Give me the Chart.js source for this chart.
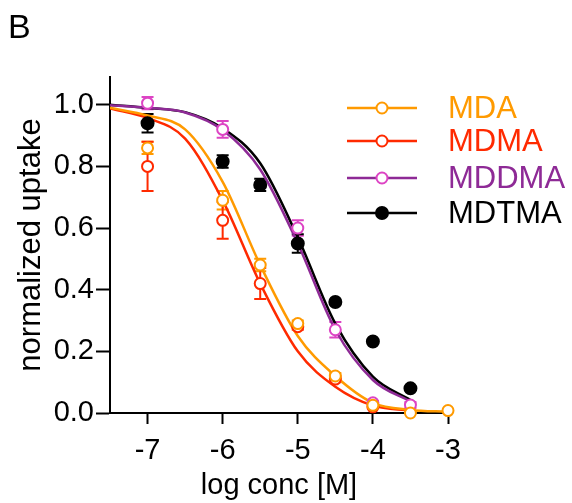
<!DOCTYPE html>
<html>
<head>
<meta charset="utf-8">
<script src="https://cdn.jsdelivr.net/npm/chart.js@4.4.0/dist/chart.umd.min.js"></script>
<style>
  html, body { margin: 0; padding: 0; background: #fff; }
</style>
</head>
<body>
<canvas id="uptakeChart" width="572" height="503"></canvas>
<script>
const mdaX = [-7, -6, -5.5, -5, -4.5, -4, -3.5, -3];
const mdaY = [0.86, 0.69, 0.48, 0.29, 0.12, 0.025, 0.0, 0.008];
const mdaErr = [0.02, 0.03, 0.02, 0.01, 0.01, 0, 0, 0];

const mdmaX = [-7, -6, -5.5, -5, -4.5, -4];
const mdmaY = [0.80, 0.625, 0.42, 0.28, 0.11, 0.02];
const mdmaErr = [0.08, 0.06, 0.05, 0.01, 0.01, 0];

const mddmaX = [-7, -6, -5, -4.5, -4, -3.5];
const mddmaY = [1.005, 0.92, 0.60, 0.27, 0.033, 0.026];
const mddmaErr = [0.02, 0.027, 0.025, 0.025, 0.005, 0.01];

const mdtmaX = [-7, -6, -5.5, -5, -4.5, -4, -3.5];
const mdtmaY = [0.94, 0.816, 0.74, 0.55, 0.36, 0.232, 0.08];
const mdtmaErr = [0.03, 0.02, 0.02, 0.03, 0, 0, 0];

// fitted curves, sampled off the figure
const fitX = [-7.5, -7, -6.5, -6, -5.5, -5, -4.5, -4, -3.5, -3];
const mdaFit = [0.99, 0.965, 0.92, 0.75, 0.48, 0.25, 0.12, 0.033, 0.01, 0.004];
const mdmaFit = [0.988, 0.957, 0.89, 0.69, 0.42, 0.2, 0.085, 0.024, 0.008];
const mddmaFit = [0.998, 0.99, 0.975, 0.918, 0.79, 0.55, 0.27, 0.107, 0.037];
const mdtmaFit = [1.0, 0.99, 0.976, 0.924, 0.81, 0.57, 0.29, 0.118, 0.042];

const xTicks = [-7, -6, -5, -4, -3];
const yTicks = [0, 0.2, 0.4, 0.6, 0.8, 1.0];

const FONT = "'Liberation Sans', Arial, Helvetica, sans-serif";

const series = [
  { label: 'MDA',   xs: mdaX,   ys: mdaY,   err: mdaErr,   fit: mdaFit,   line: '#ff9a00', marker: '#ff9a00', text: '#ff9a00', filled: false },
  { label: 'MDMA',  xs: mdmaX,  ys: mdmaY,  err: mdmaErr,  fit: mdmaFit,  line: '#ff2a00', marker: '#ff2a00', text: '#ff2a00', filled: false },
  { label: 'MDDMA', xs: mddmaX, ys: mddmaY, err: mddmaErr, fit: mddmaFit, line: '#8e2a96', marker: '#dd44c4', text: '#8e2a96', filled: false },
  { label: 'MDTMA', xs: mdtmaX, ys: mdtmaY, err: mdtmaErr, fit: mdtmaFit, line: '#000000', marker: '#000000', text: '#000000', filled: true }
];

const datasets = [];
series.forEach((s, i) => {
  datasets.push({
    label: s.label + ' fit',
    data: s.fit.map((v, j) => ({ x: fitX[j], y: v })),
    showLine: true,
    borderColor: s.line,
    borderWidth: 2.5,
    pointRadius: 0,
    cubicInterpolationMode: 'monotone',
    fill: false,
    order: 10 + i
  });
  datasets.push({
    label: s.label,
    data: s.xs.map((x, j) => ({ x: x, y: s.ys[j] })),
    errors: s.err,
    showLine: false,
    pointStyle: 'circle',
    pointRadius: s.filled ? 6 : 5.5,
    borderWidth: 2,
    borderColor: s.marker,
    backgroundColor: s.filled ? s.marker : '#ffffff',
    clip: false,
    order: i
  });
});

const errorBars = {
  id: 'errorBars',
  beforeDatasetsDraw(chart) {
    const ctx = chart.ctx;
    const xs = chart.scales.x, ys = chart.scales.y;
    ctx.save();
    ctx.lineWidth = 2;
    chart.data.datasets.forEach(ds => {
      if (!ds.errors) return;
      ctx.strokeStyle = ds.borderColor;
      ds.data.forEach((p, j) => {
        const e = ds.errors[j];
        if (!e) return;
        const px = xs.getPixelForValue(p.x);
        const top = ys.getPixelForValue(p.y + e);
        const bot = ys.getPixelForValue(p.y - e);
        ctx.beginPath();
        ctx.moveTo(px, top); ctx.lineTo(px, bot);
        ctx.moveTo(px - 6, top); ctx.lineTo(px + 6, top);
        ctx.moveTo(px - 6, bot); ctx.lineTo(px + 6, bot);
        ctx.stroke();
      });
    });
    ctx.restore();
  }
};

const sideLegend = {
  id: 'sideLegend',
  afterDraw(chart) {
    const ctx = chart.ctx;
    const rows = [108, 141, 178, 213];
    ctx.save();
    series.forEach((s, i) => {
      const y = rows[i];
      ctx.strokeStyle = s.line;
      ctx.lineWidth = 2.5;
      ctx.beginPath();
      ctx.moveTo(347, y); ctx.lineTo(417, y);
      ctx.stroke();
      ctx.beginPath();
      ctx.arc(382, y, s.filled ? 6 : 5.5, 0, Math.PI * 2);
      ctx.fillStyle = s.filled ? s.marker : '#ffffff';
      ctx.fill();
      ctx.lineWidth = 2;
      ctx.strokeStyle = s.marker;
      ctx.stroke();
      ctx.fillStyle = s.text;
      ctx.font = '31px ' + FONT;
      ctx.textBaseline = 'middle';
      ctx.textAlign = 'left';
      ctx.fillText(s.label, 448, y + 1);
    });
    // panel letter
    ctx.fillStyle = '#000';
    ctx.font = '34px ' + FONT;
    ctx.textBaseline = 'alphabetic';
    ctx.fillText('B', 8, 38);
    ctx.restore();
  }
};

Chart.defaults.font.family = FONT;
Chart.defaults.color = '#000';

new Chart(document.getElementById('uptakeChart').getContext('2d'), {
  type: 'scatter',
  data: { datasets: datasets },
  options: {
    responsive: false,
    animation: false,
    devicePixelRatio: 1,
    layout: { padding: { top: 77, right: 124, left: 0, bottom: 0 } },
    plugins: { legend: { display: false }, tooltip: { enabled: false } },
    scales: {
      x: {
        type: 'linear',
        min: -7.5,
        max: -3,
        afterBuildTicks: scale => { scale.ticks = xTicks.map(v => ({ value: v })); },
        afterFit: scale => { scale.height = 90; },
        border: { display: true, color: '#000', width: 2 },
        grid: { drawOnChartArea: false, drawTicks: true, tickLength: 11, tickColor: '#000', tickWidth: 2 },
        ticks: { font: { size: 29 }, padding: 10, maxRotation: 0 },
        title: { display: true, text: 'log conc [M]', font: { size: 29 }, padding: { top: 0, bottom: 0 } }
      },
      y: {
        type: 'linear',
        min: 0,
        max: 1.09,
        afterBuildTicks: scale => { scale.ticks = yTicks.map(v => ({ value: v })); },
        afterFit: scale => { scale.width = 110; },
        border: { display: true, color: '#000', width: 2 },
        grid: { drawOnChartArea: false, drawTicks: true, tickLength: 14, tickColor: '#000', tickWidth: 2 },
        ticks: { font: { size: 29 }, padding: 2, callback: v => v.toFixed(1) },
        title: { display: true, text: 'normalized uptake', font: { size: 31 }, padding: { top: 13, bottom: 0 } }
      }
    }
  },
  plugins: [errorBars, sideLegend]
});
</script>
</body>
</html>
